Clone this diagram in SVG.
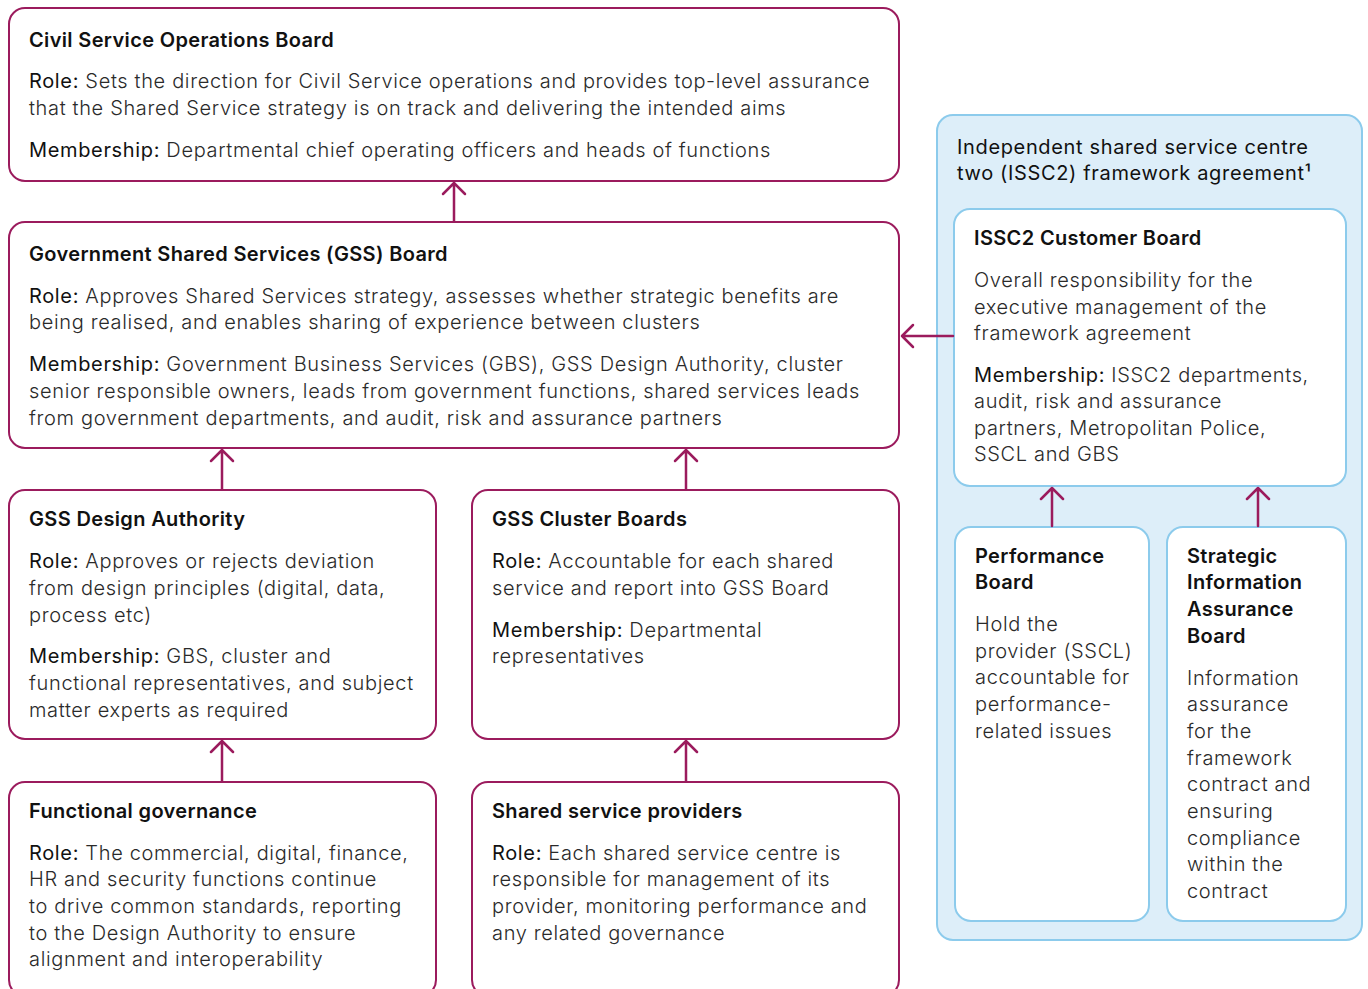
<svg xmlns="http://www.w3.org/2000/svg" width="1368" height="989" viewBox="0 0 1368 989">
  <style>
    text { font-family: Inter, "Liberation Sans", Arial, sans-serif; font-size: 20px; font-weight: 300; fill: #2a2a2a; letter-spacing: 0.65px; }
    .t { font-weight: 600; fill: #111; letter-spacing: 0.35px; }
    .k { font-weight: 400; fill: #111; }
    .box { fill: #fff; stroke: #9b1b5d; stroke-width: 2; }
    .panel { fill: #ddeef9; stroke: #8ccbec; stroke-width: 2; }
    .sub { fill: #fff; stroke: #8ccbec; stroke-width: 2; }
    .wire { fill: none; stroke: #9b1b5d; stroke-width: 2.5; stroke-linecap: round; stroke-linejoin: round; }
  </style>

  <!-- Top board -->
  <g id="csob">
    <rect class="box" x="9" y="8" width="890" height="173" rx="16"/>
    <text class="t" x="29" y="47">Civil Service Operations Board</text>
    <text x="29" y="88"><tspan class="k">Role:</tspan> Sets the direction for Civil Service operations and provides top-level assurance</text>
    <text x="29" y="115">that the Shared Service strategy is on track and delivering the intended aims</text>
    <text x="29" y="157"><tspan class="k">Membership:</tspan> Departmental chief operating officers and heads of functions</text>
  </g>

  <g id="gss-board">
    <rect class="box" x="9" y="222" width="890" height="226" rx="16"/>
    <text class="t" x="29" y="261">Government Shared Services (GSS) Board</text>
    <text x="29" y="303"><tspan class="k">Role:</tspan> Approves Shared Services strategy, assesses whether strategic benefits are</text>
    <text x="29" y="329">being realised, and enables sharing of experience between clusters</text>
    <text x="29" y="371"><tspan class="k">Membership:</tspan> Government Business Services (GBS), GSS Design Authority, cluster</text>
    <text x="29" y="398">senior responsible owners, leads from government functions, shared services leads</text>
    <text x="29" y="425">from government departments, and audit, risk and assurance partners</text>
  </g>

  <g id="design-authority">
    <rect class="box" x="9" y="490" width="427" height="249" rx="16"/>
    <text class="t" x="29" y="526">GSS Design Authority</text>
    <text x="29" y="568"><tspan class="k">Role:</tspan> Approves or rejects deviation</text>
    <text x="29" y="595">from design principles (digital, data,</text>
    <text x="29" y="622">process etc)</text>
    <text x="29" y="663"><tspan class="k">Membership:</tspan> GBS, cluster and</text>
    <text x="29" y="690">functional representatives, and subject</text>
    <text x="29" y="717">matter experts as required</text>
  </g>

  <g id="cluster-boards">
    <rect class="box" x="472" y="490" width="427" height="249" rx="16"/>
    <text class="t" x="492" y="526">GSS Cluster Boards</text>
    <text x="492" y="568"><tspan class="k">Role:</tspan> Accountable for each shared</text>
    <text x="492" y="595">service and report into GSS Board</text>
    <text x="492" y="637"><tspan class="k">Membership:</tspan> Departmental</text>
    <text x="492" y="663">representatives</text>
  </g>

  <g id="functional-governance">
    <rect class="box" x="9" y="782" width="427" height="214" rx="16"/>
    <text class="t" x="29" y="818">Functional governance</text>
    <text x="29" y="860"><tspan class="k">Role:</tspan> The commercial, digital, finance,</text>
    <text x="29" y="886">HR and security functions continue</text>
    <text x="29" y="913">to drive common standards, reporting</text>
    <text x="29" y="940">to the Design Authority to ensure</text>
    <text x="29" y="966">alignment and interoperability</text>
  </g>

  <g id="service-providers">
    <rect class="box" x="472" y="782" width="427" height="214" rx="16"/>
    <text class="t" x="492" y="818">Shared service providers</text>
    <text x="492" y="860"><tspan class="k">Role:</tspan> Each shared service centre is</text>
    <text x="492" y="886">responsible for management of its</text>
    <text x="492" y="913">provider, monitoring performance and</text>
    <text x="492" y="940">any related governance</text>
  </g>

  <!-- ISSC2 framework panel -->
  <g id="issc2-framework">
    <rect class="panel" x="937" y="115" width="425" height="825" rx="16"/>
    <text class="k" x="957" y="154">Independent shared service centre</text>
    <text class="k" x="957" y="180">two (ISSC2) framework agreement¹</text>
  </g>

  <g id="issc2-customer-board">
    <rect class="sub" x="954" y="209" width="392" height="277" rx="16"/>
    <text class="t" x="974" y="245">ISSC2 Customer Board</text>
    <text x="974" y="287">Overall responsibility for the</text>
    <text x="974" y="314">executive management of the</text>
    <text x="974" y="340">framework agreement</text>
    <text x="974" y="382"><tspan class="k">Membership:</tspan> ISSC2 departments,</text>
    <text x="974" y="408">audit, risk and assurance</text>
    <text x="974" y="435">partners, Metropolitan Police,</text>
    <text x="974" y="461">SSCL and GBS</text>
  </g>

  <g id="performance-board">
    <rect class="sub" x="955" y="527" width="194" height="394" rx="16"/>
    <text class="t" x="975" y="563">Performance</text>
    <text class="t" x="975" y="589">Board</text>
    <text x="975" y="631">Hold the</text>
    <text x="975" y="658">provider (SSCL)</text>
    <text x="975" y="684">accountable for</text>
    <text x="975" y="711">performance-</text>
    <text x="975" y="738">related issues</text>
  </g>

  <g id="siab">
    <rect class="sub" x="1167" y="527" width="179" height="394" rx="16"/>
    <text class="t" x="1187" y="563">Strategic</text>
    <text class="t" x="1187" y="589">Information</text>
    <text class="t" x="1187" y="616">Assurance</text>
    <text class="t" x="1187" y="643">Board</text>
    <text x="1187" y="685">Information</text>
    <text x="1187" y="711">assurance</text>
    <text x="1187" y="738">for the</text>
    <text x="1187" y="765">framework</text>
    <text x="1187" y="791">contract and</text>
    <text x="1187" y="818">ensuring</text>
    <text x="1187" y="845">compliance</text>
    <text x="1187" y="871">within the</text>
    <text x="1187" y="898">contract</text>
  </g>

  <!-- Connectors: straight reporting lines with open chevron heads -->
  <g id="connectors">
    <path class="wire" d="M454 221V183M443 194l11-11l11 11"/>
    <path class="wire" d="M222 489V450M211 461l11-11l11 11"/>
    <path class="wire" d="M686 489V450M675 461l11-11l11 11"/>
    <path class="wire" d="M222 781V741M211 752l11-11l11 11"/>
    <path class="wire" d="M686 781V741M675 752l11-11l11 11"/>
    <path class="wire" d="M953 336H902M913 325l-11 11l11 11"/>
    <path class="wire" d="M1052 526V488M1041 499l11-11l11 11"/>
    <path class="wire" d="M1258 526V488M1247 499l11-11l11 11"/>
  </g>
</svg>
